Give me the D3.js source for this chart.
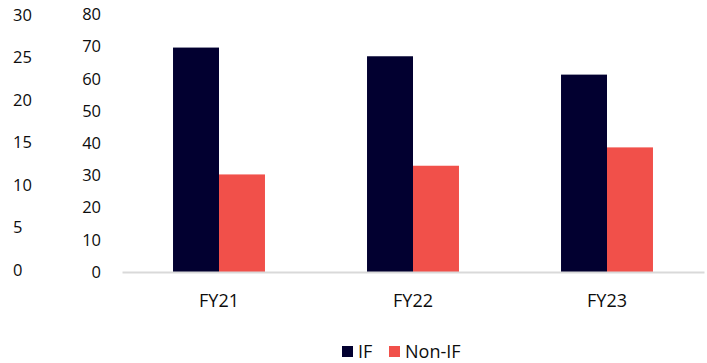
<!DOCTYPE html>
<html>
<head>
<meta charset="utf-8">
<script src="https://cdn.jsdelivr.net/npm/d3@7"></script>
<style>
  html, body { margin: 0; padding: 0; background: #ffffff; }
  svg { display: block; }
  text { font-family: "Open Sans", "Noto Sans", sans-serif; fill: #0d0d0d; }
</style>
</head>
<body>
<svg id="chart" width="707" height="363"></svg>
<script>
// Fiscal years shown on the category axis
const categories = ["FY21", "FY22", "FY23"];
// Share of IF and Non-IF, per fiscal year
const seriesNames = ["IF", "Non-IF"];
const ifValues = [69.7, 67.0, 61.3];
const nonIfValues = [30.3, 33.0, 38.7];
// Tick labels of the two left-hand scales
const outerTicks = [0, 5, 10, 15, 20, 25, 30];
const innerTicks = [0, 10, 20, 30, 40, 50, 60, 70, 80];

const colors = { "IF": "#020030", "Non-IF": "#f1504a" };

const svg = d3.select("#chart");
const plotLeft = 122, plotRight = 704, baseY = 272;

const rows = categories.map((c, i) => ({
  cat: c,
  values: [
    { key: "IF", value: ifValues[i] },
    { key: "Non-IF", value: nonIfValues[i] }
  ]
}));

// Category and within-group scales
const x0 = d3.scaleBand()
  .domain(categories)
  .range([plotLeft, plotRight])
  .paddingInner(0.526)
  .paddingOuter(0.263);
const x1 = d3.scaleBand()
  .domain(seriesNames)
  .range([0, x0.bandwidth()])
  .padding(0);

// Value scales: the inner one carries the bars
const yInner = d3.scaleLinear().domain([0, 80]).range([baseY, 14.4]);
const yOuter = d3.scaleLinear().domain([0, 30]).range([270, 15]);

// Outer axis (0-30), left-aligned labels
const outerAxis = svg.append("g")
  .attr("transform", "translate(13,0)")
  .call(d3.axisRight(yOuter).tickValues(outerTicks).tickSize(0).tickPadding(0));
outerAxis.select(".domain").remove();

// Inner axis (0-80), right-aligned labels
const innerAxis = svg.append("g")
  .attr("transform", "translate(101,0)")
  .call(d3.axisLeft(yInner).tickValues(innerTicks).tickSize(0).tickPadding(0));
innerAxis.select(".domain").remove();

[outerAxis, innerAxis].forEach(g => {
  g.selectAll("text")
    .style("font-family", "'Open Sans', sans-serif")
    .style("font-size", "16.5px")
    .attr("fill", "#0d0d0d");
});

// Bars
const groups = svg.append("g").selectAll("g")
  .data(rows)
  .join("g")
  .attr("transform", d => `translate(${x0(d.cat)},0)`);

groups.selectAll("rect")
  .data(d => d.values)
  .join("rect")
  .attr("x", d => x1(d.key))
  .attr("y", d => yInner(d.value))
  .attr("width", x1.bandwidth())
  .attr("height", d => yInner(0) - yInner(d.value))
  .attr("fill", d => colors[d.key]);

// Category axis
const xAxis = svg.append("g")
  .attr("transform", `translate(0,${baseY})`)
  .call(d3.axisBottom(x0).tickSize(0));
xAxis.select(".domain")
  .attr("stroke", "#d9d9d9")
  .attr("stroke-width", 2);
xAxis.selectAll("text")
  .attr("y", 35)
  .attr("dy", "0")
  .style("font-family", "'Open Sans', sans-serif")
  .style("font-size", "18px")
  .attr("fill", "#0d0d0d");

// Legend
const legend = svg.append("g").attr("transform", "translate(342,346)");
const legendItems = [
  { key: "IF", dx: 0 },
  { key: "Non-IF", dx: 47 }
];
const li = legend.selectAll("g")
  .data(legendItems)
  .join("g")
  .attr("transform", d => `translate(${d.dx},0)`);
li.append("rect")
  .attr("width", 11)
  .attr("height", 11)
  .attr("fill", d => colors[d.key]);
li.append("text")
  .attr("x", 16)
  .attr("y", 11.5)
  .style("font-size", "18px")
  .text(d => d.key);
</script>
</body>
</html>
